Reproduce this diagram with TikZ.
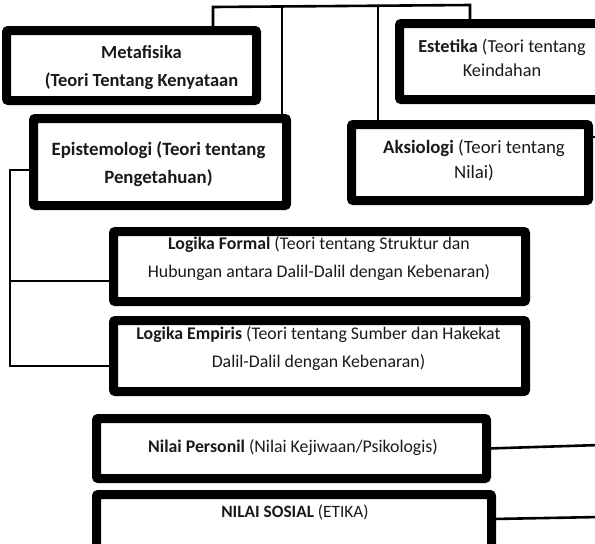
\documentclass[tikz,border=0pt]{standalone}
\usepackage{fontspec}
\setmainfont{Carlito}
\definecolor{ink}{HTML}{1A1A1A}
\begin{document}
\begin{tikzpicture}[x=1pt,y=-1pt,
  box/.style={draw=black, line width=6pt, rounded corners=3pt, fill=white, inner sep=0pt},
  txt/.style={align=center, inner sep=0pt, text=ink},
  link/.style={draw=black, line width=2.6pt}]
\useasboundingbox (0,0) rectangle (595,544);
\clip (0,0) rectangle (595,544);
% coordinates for connector corners
\coordinate (tl) at (213,7);
\coordinate (tr) at (470,5);
\coordinate (ja) at (282,7);
\coordinate (jb) at (378,6);
\coordinate (lt) at (10,170);
\coordinate (lm) at (10,281);
\coordinate (lb) at (10,366);
\coordinate (ra) at (600,137);
\coordinate (rb) at (600,445);
\coordinate (rc) at (600,517);
% boxes
\node[box, minimum width=247pt, minimum height=67pt] (meta) at (131.5,65.5) {};
\node[box, minimum width=201pt, minimum height=73pt] (este) at (501.5,61.5) {};
\node[box, minimum width=250pt, minimum height=84pt] (epis) at (160,162) {};
\node[box, minimum width=234pt, minimum height=73pt] (aksi) at (470,162.5) {};
\node[box, minimum width=409pt, minimum height=67pt] (lf) at (319.5,266.5) {};
\node[box, minimum width=409pt, minimum height=68pt] (le) at (319.5,356) {};
\node[box, minimum width=387pt, minimum height=57pt] (np) at (291.5,448.5) {};
\node[box, minimum width=392pt, minimum height=65pt] (ns) at (294,528.5) {};
% connectors
\draw[link] (meta.north -| tl) -- (tl) -- (tr) -- (este.north -| tr);
\draw[link] (ja) -- (epis.north -| ja);
\draw[link] (jb) -- (aksi.north -| jb);
\draw[link] (epis.west |- lt) -- (lt) -- (lb) -- (le.west |- lb);
\draw[link] (lm) -- (lf.west |- lm);
\draw[link] (aksi.east |- ra) -- (ra);
\draw[link] (np.east) -- (rb);
\draw[link] ([yshift=-26pt]ns.north east) -- (rc);
% redraw box outlines over connector ends
\foreach \n in {meta,este,epis,aksi,lf,le,np,ns}{\draw[line width=6pt, rounded corners=3pt] (\n.north west) rectangle (\n.south east);}
% texts
\node[txt, font=\fontsize{18.5}{28}\selectfont] (metaT) at (141.5,68) {\textbf{Metafisika}\\\textbf{(Teori Tentang Kenyataan}};
\node[txt, font=\fontsize{18.3}{24}\selectfont] (esteT) at (502,58) {\textbf{Estetika} (Teori tentang\\Keindahan};
\node[txt, font=\fontsize{18.8}{28}\selectfont] (episT) at (158.5,164) {\textbf{Epistemologi (Teori tentang}\\\textbf{Pengetahuan)}};
\node[txt, font=\fontsize{18.8}{25}\selectfont] (aksiT) at (474,160) {\textbf{Aksiologi} (Teori tentang\\Nilai)};
\node[txt, font=\fontsize{17.8}{28}\selectfont] (lfT) at (319,259) {\textbf{Logika Formal} (Teori tentang Struktur dan\\Hubungan antara Dalil-Dalil dengan Kebenaran)};
\node[txt, font=\fontsize{17.8}{28}\selectfont] (leT) at (318.5,349) {\textbf{Logika Empiris} (Teori tentang Sumber dan Hakekat\\Dalil-Dalil dengan Kebenaran)};
\node[txt, font=\fontsize{17.8}{26}\selectfont] (npT) at (293,448) {\textbf{Nilai Personil} (Nilai Kejiwaan/Psikologis)};
\node[txt, font=\fontsize{17.3}{26}\selectfont] (nsT) at (295,512) {\textbf{NILAI SOSIAL} (ETIKA)};
\end{tikzpicture}
\end{document}
